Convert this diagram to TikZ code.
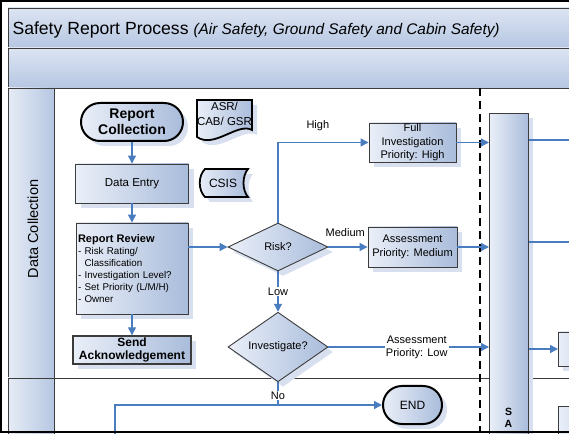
\documentclass[tikz,border=0pt]{standalone}
\usepackage{fontspec}
\setmainfont{Liberation Sans}
\usetikzlibrary{shapes.geometric,arrows.meta,shadows,positioning}

\definecolor{boxlight}{HTML}{EAEFF8}
\definecolor{boxdark}{HTML}{A9BCDB}
\definecolor{bandlight}{HTML}{DCE4F2}
\definecolor{banddark}{HTML}{B6C7E2}
\definecolor{flowblue}{HTML}{4A7DC0}
\definecolor{shadowblue}{HTML}{D8E0EF}
\definecolor{edgegrey}{HTML}{3C3C3C}

\tikzset{
  fillgrad/.style={left color=boxlight, right color=boxdark},
  softshadow/.style={drop shadow={shadow xshift=5pt, shadow yshift=-5pt, fill=shadowblue, opacity=1}},
  proc/.style={draw=edgegrey, line width=0.9pt, fillgrad, softshadow, inner sep=0.5pt,
    align=center, font=\fontsize{11}{13.5}\selectfont},
  term/.style={proc, draw=black, line width=2pt, rounded corners=18.9pt},
  decis/.style={proc, diamond, inner sep=0pt},
  flow/.style={draw=flowblue, line width=1.3pt, -{Triangle[length=8pt,width=8pt]}},
  flowline/.style={draw=flowblue, line width=1.3pt},
  lbl/.style={font=\fontsize{11}{13}\selectfont, inner sep=1pt, align=center},
  band/.style={draw=edgegrey, line width=0.8pt, top color=bandlight, bottom color=banddark},
  lane/.style={draw=edgegrey, line width=0.8pt, left color=bandlight!70!white, right color=banddark}
}

\begin{document}
\begin{tikzpicture}[x=1pt,y=1pt]

  \clip (0,0) rectangle (569,433);
  \fill[white] (0,0) rectangle (569,433);

  % pool and lanes
  \draw[band] (8,385) rectangle (580,425);
  \draw[band] (8,345) rectangle (580,385);
  \draw[lane] (8,55) rectangle (54,345);
  \draw[lane] (8,-5) rectangle (54,55);
  \draw[edgegrey, line width=0.8pt] (54,55) -- (580,55);

  \node[anchor=base west, font=\fontsize{17.6}{20}\selectfont] (title) at (9,398)
    {Safety Report Process {\itshape\fontsize{15.4}{18}\selectfont (Air Safety, Ground Safety and Cabin Safety)}};
  \node[rotate=90, font=\fontsize{14.5}{16}\selectfont] (lanedc) at (33,204) {Data Collection};

  \draw[black, line width=1.3pt, dash pattern=on 8pt off 5pt] (480,345) -- (480,0);

  % data collection lane
  \node[term, minimum width=102, minimum height=38, font=\bfseries\fontsize{14}{16}\selectfont] (repcoll) at (132,311) {Report\\Collection};
  \node[proc, minimum width=113, minimum height=39, font=\fontsize{11.5}{13.5}\selectfont] (dataent) at (132,249.5) {Data Entry};
  \node[proc, minimum width=112, minimum height=91, text width=108, inner xsep=2pt, align=left,
    font=\fontsize{9.8}{12}\selectfont] (review) at (132,164.5)
    {{\bfseries\fontsize{11}{13}\selectfont Report Review}\\- Risk Rating/\\\phantom{- }Classification\\- Investigation Level?\\- Set Priority (L/M/H)\\- Owner};
  \node[proc, line width=1.4pt, minimum width=118, minimum height=28, inner sep=0pt,
    font=\bfseries\fontsize{12}{13}\selectfont] (sendack) at (132,83) {Send\\Acknowledgement};

  \draw[draw=black, line width=1.8pt, fillgrad, softshadow]
    (197,333) -- (252,333) -- (252,303) .. controls (238,311) and (214,284) .. (197,296) -- cycle;
  \node[lbl, font=\fontsize{11.5}{15}\selectfont] (asrtxt) at (224.5,319) {ASR/\\CAB/ GSR};

  \draw[draw=black, line width=1.8pt, fillgrad, softshadow]
    (205,264) -- (248,264) .. controls (242,257) and (242,243) .. (248,236) -- (205,236)
    .. controls (198,243) and (198,257) .. (205,264) -- cycle;
  \node[lbl, font=\fontsize{12}{14}\selectfont] (csistxt) at (223,250) {CSIS};

  \node[decis, minimum width=100, minimum height=48] (risk) at (278,186) {Risk?};
  \node[decis, minimum width=100, minimum height=40] (investig) at (278,86) {Investigate?};

  \node[proc, minimum width=87, minimum height=39] (fullinv) at (412.5,290.5) {Full\\Investigation\\Priority: High};
  \node[proc, minimum width=89, minimum height=40] (medassess) at (412.5,186) {Assessment\\Priority: Medium};
  \node[term, minimum width=59, minimum height=38, font=\fontsize{12}{14}\selectfont] (endterm) at (412.5,28) {END};

  % next column
  \node[proc, minimum width=39, minimum height=340, anchor=north west] (sbox) at (489,320) {};
  \node[lbl, font=\bfseries\fontsize{10.5}{12}\selectfont] (sboxtxt) at (508.5,15) {S\\A};
  \node[proc, minimum width=60, minimum height=34, anchor=west] (rboxa) at (558,84) {};
  \node[proc, minimum width=60, minimum height=40, anchor=north west] (rboxb) at (558,27) {};

  \coordinate (edgehi) at (575,293);
  \coordinate (edgemid) at (575,191);
  \coordinate (lowerin) at (115,-3);

  % connectors
  \draw[flow] (repcoll) -- (dataent);
  \draw[flow] (dataent) -- (review);
  \draw[flow] (review) -- (sendack);
  \draw[flow] (review.east |- risk.west) -- (risk.west);
  \draw[flow] (risk.north) |- node[lbl, pos=0.72, above=10pt] {High} (fullinv.west);
  \draw[flow] (risk.east) -- node[lbl, pos=0.43, above=9pt] {Medium} (medassess.west);
  \draw[flow] (risk.south) -- node[lbl, fill=white] {Low} (investig.north);
  \draw[flow] (investig.east) -- node[lbl, fill=white, pos=0.55] {Assessment\\Priority: Low} (investig.east -| sbox.west);
  \draw[flow] (investig.south) |- node[lbl, fill=white, pos=0.29] {No} (endterm.west);
  \draw[flowline] (lowerin) |- (investig.south |- endterm.west);

  \draw[flow] (fullinv.east) -- (fullinv.east -| sbox.west);
  \draw[flow] (medassess.east) -- (medassess.east -| sbox.west);
  \draw[flowline] (sbox.east |- edgehi) -- (edgehi);
  \draw[flowline] (sbox.east |- edgemid) -- (edgemid);
  \draw[flow] (sbox.east |- rboxa.west) -- (rboxa.west);

  \draw[line width=2pt] (575,432) -- (1,432) -- (1,1) -- (575,1);
\end{tikzpicture}
\end{document}
